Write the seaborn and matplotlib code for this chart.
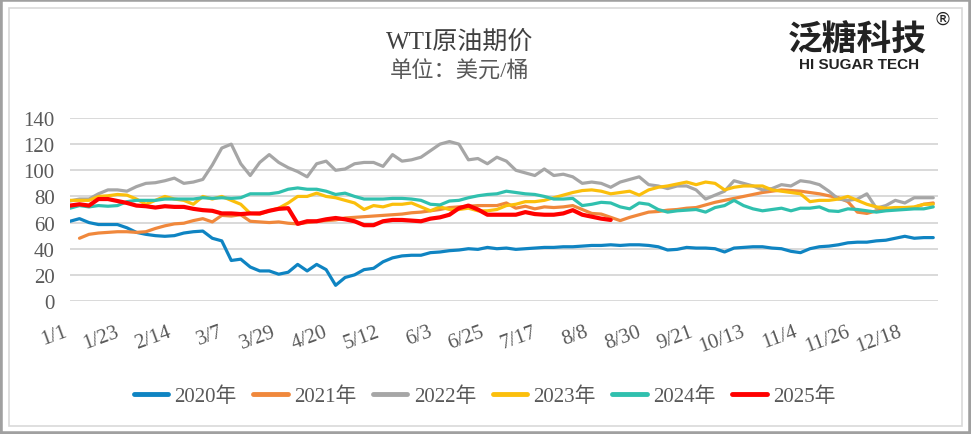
import numpy as np
import pandas as pd
import matplotlib
matplotlib.use("Agg")
import matplotlib.pyplot as plt
from matplotlib.lines import Line2D
from matplotlib.patches import Rectangle
from matplotlib.transforms import ScaledTranslation
import seaborn as sns

# day-of-year positions (leap-year axis), one reading every 4 days
days = list(range(0, 365, 4))

tick_days = [0, 22, 44, 66, 88, 110, 132, 154, 176, 198, 220, 242, 264, 286, 308, 330, 352]
tick_labels = ["1/1", "1/23", "2/14", "3/7", "3/29", "4/20", "5/12", "6/3", "6/25",
               "7/17", "8/8", "8/30", "9/21", "10/13", "11/4", "11/26", "12/18"]

y2020 = [61, 63, 60, 58.5, 58.5, 58.5, 56, 52.5, 51, 50,
         49.5, 50, 52, 53, 53.5, 48, 46, 31, 32, 26,
         23, 23, 20.5, 22, 28, 23, 28, 24, 12, 18,
         20, 24, 25, 30, 33, 34.5, 35, 35, 37, 37.5,
         38.5, 39, 40, 39.5, 41, 40, 40.5, 39.5, 40, 40.5,
         41, 41, 41.5, 41.5, 42, 42.5, 42.5, 43, 42.5, 43,
         43, 42.5, 41.5, 39, 39.5, 41, 40.5, 40.5, 40, 37.5,
         40.5, 41, 41.5, 41.5, 40.5, 40, 38, 37, 40, 41.5,
         42, 43, 44.5, 45, 45, 46, 46.5, 48, 49.5, 48,
         48.5, 48.5]
y2021 = [np.nan, 48, 51, 52, 52.5, 53, 53, 52.5, 53, 55.5,
         57.5, 59, 59.5, 61.5, 63, 60.5, 65.5, 65, 66, 61,
         60.5, 60, 60.5, 59.5, 59, 60, 61, 61.5, 62, 63.5,
         64, 64.5, 65, 65.5, 66, 66.5, 67.5, 68, 69, 70,
         71.5, 72, 72.5, 73, 73, 73, 75, 71, 72.5, 70.5,
         72, 71.5, 72, 73, 70, 67, 66.5, 64, 61.5, 64,
         66, 68, 68.5, 69.5, 70, 71, 71.5, 73.5, 75.5, 77,
         78.5, 80, 81.5, 83, 84, 85, 84.5, 84, 83, 82,
         80.5, 79, 76, 68, 67, 69, 70.5, 70.5, 71, 71.5,
         74, 75]
y2022 = [76.5, 78, 78, 82, 85, 85, 84, 87.5, 90, 90.5,
         92, 94, 90, 91, 93, 104, 117, 120, 105, 96,
         106, 112, 106, 102, 99, 95, 105, 107, 100, 101,
         105, 106, 106, 103, 112, 107, 108, 110, 115, 120,
         122, 120, 108, 109, 105, 110, 107, 100, 98, 96,
         101, 96, 97, 95, 90, 91, 90, 87, 91, 93,
         95, 89, 88, 86, 88, 88, 85, 78, 81, 84,
         92, 90, 88, 85, 86, 89, 88, 92, 91, 89,
         84, 78, 77, 78, 82, 71, 73, 77, 75, 79,
         79, 79]
y2023 = [77, 77, 77, 80, 80.5, 81.5, 81, 78, 74, 77,
         80, 78, 77, 74, 80, 78, 80, 77, 74, 67,
         66.5, 69, 71, 75, 80, 80, 82.5, 80, 79, 77,
         75, 70, 73, 72, 74, 74, 75, 72, 69, 72,
         70, 70, 71, 69, 69, 70, 73, 74, 76, 76,
         77, 79, 81, 83, 84.5, 85, 84, 82, 83, 84,
         81, 85, 87, 88, 89.5, 91, 89, 91, 90, 85,
         87, 88, 88, 88, 85, 84, 83, 82, 76, 77,
         77, 78, 80, 77, 74, 72, 71, 71.5, 71.5, 72,
         74, 74]
y2024 = [71, 73, 72, 73, 72.5, 73, 76, 77, 77, 77,
         78, 78, 78, 78, 79, 78.5, 79, 78.5, 79, 82,
         82, 82, 83, 85.5, 86.5, 85.5, 85.5, 84, 81.5, 82.5,
         80, 78, 78, 78, 78.5, 78.5, 78, 77, 74, 73.5,
         76.5, 77, 79, 80.5, 81.5, 82, 84, 83, 82, 81.5,
         80, 78, 78, 78.5, 73, 74, 75.5, 75, 72, 70.5,
         75, 74, 70, 68, 69, 69.5, 70, 68, 71.5, 73,
         77, 73, 70.5, 69, 70, 71, 69, 71, 71, 72,
         69, 68.5, 70.5, 70, 69, 68, 69, 69.5, 70, 70.5,
         70.5, 72]
y2025 = [73, 74, 73, 78, 78, 76.5, 75, 73, 72.5, 71.5,
         72.5, 72, 72, 70.5, 69.5, 69, 67, 67, 66.5, 67,
         67, 69, 70.5, 71, 59, 61, 61, 62.5, 63.5, 62.5,
         61, 58, 58, 61, 62, 62, 61.5, 61, 63, 64,
         66, 71, 73, 70, 66, 66, 66, 66, 68, 66.5,
         66, 66, 67, 69.5, 66, 64.5, 63, 62] + [np.nan] * 34

series = {"2020年": y2020, "2021年": y2021, "2022年": y2022,
          "2023年": y2023, "2024年": y2024, "2025年": y2025}
colors = {"2020年": "#0f84c2", "2021年": "#f0883c", "2022年": "#a6a6a6",
          "2023年": "#fbbf0c", "2024年": "#30c0ae", "2025年": "#ff0000"}
widths = {"2020年": 2.3, "2021年": 2.3, "2022年": 2.3,
          "2023年": 2.3, "2024年": 2.3, "2025年": 3.0}

sns.set_style("white")
serif = ["Liberation Serif", "Noto Sans CJK SC"]
plt.rcParams["font.family"] = serif
grey_txt = "#595959"

fig = plt.figure(figsize=(9.71, 4.35), dpi=100)
ax = fig.add_axes([70 / 971, 133 / 435, 868 / 971, 183 / 435])

for name, vals in series.items():
    d = pd.DataFrame({"day": days, "price": vals})
    sns.lineplot(data=d, x="day", y="price", ax=ax, color=colors[name],
                 linewidth=widths[name], legend=False)

ax.set_xlim(0, 366)
ax.set_ylim(0, 140)
ax.set_yticks(range(0, 141, 20))
ax.yaxis.grid(True, color="#d9d9d9", linewidth=1.4)
ax.set_axisbelow(True)
for s in ax.spines.values():
    s.set_visible(False)
ax.set_xlabel("")
ax.set_ylabel("")
ax.set_xticks(tick_days)
ax.set_xticklabels(tick_labels, rotation=20, ha="right", va="top",
                   rotation_mode="anchor")
ax.tick_params(axis="both", length=0, labelsize=15, labelcolor=grey_txt)
ax.tick_params(axis="x", pad=15)
ax.tick_params(axis="y", pad=11)
shift = ScaledTranslation(-0.07, 0, fig.dpi_scale_trans)
for lab in ax.get_xticklabels():
    lab.set_transform(lab.get_transform() + shift)

# legend
handles = [Line2D([0], [0], color=colors[n], lw=3.5) for n in series]
fig.legend(handles, list(series.keys()), loc="center", ncol=6,
           bbox_to_anchor=(0.499, 38 / 435), frameon=False, fontsize=15,
           handlelength=1.65, handletextpad=0.3, columnspacing=0.8,
           labelcolor=grey_txt)

# titles
fig.text(460 / 971, 1 - 42 / 435, "WTI原油期价", ha="center", va="center",
         fontsize=18, color="#404040", family=serif)
fig.text(460 / 971, 1 - 72 / 435, "单位：美元/桶", ha="center", va="center",
         fontsize=16, color=grey_txt, family=serif)

# logo
fig.text(857 / 971, 1 - 40 / 435, "泛糖科技", ha="center", va="center",
         fontsize=25, color="#222222", family=["Noto Sans CJK SC"], weight="bold")
fig.text(859 / 971, 1 - 65 / 435, "HI SUGAR TECH", ha="center", va="center",
         fontsize=11, color="#222222", family=["Liberation Sans"], weight="bold")
fig.text(942 / 971, 1 - 20 / 435, "®", ha="center", va="center",
         fontsize=13, color="#222222", family=["DejaVu Sans"])

# frames
fig.patches.append(Rectangle((9 / 971, 8 / 435), 953 / 971, 418 / 435,
                             transform=fig.transFigure, fill=False,
                             edgecolor="#d9d9d9", linewidth=1.2))
fig.patches.append(Rectangle((0, 0), 1, 1, transform=fig.transFigure,
                             fill=False, edgecolor="#a0a0a0", linewidth=4))

fig.savefig("out.png", dpi=100)
